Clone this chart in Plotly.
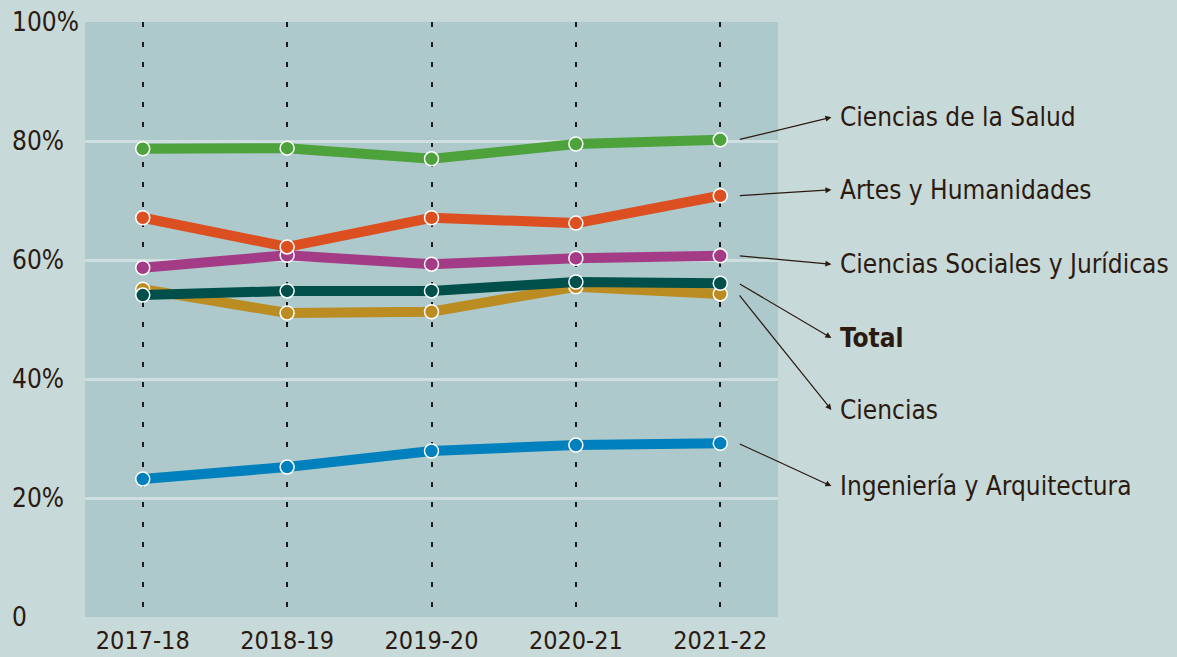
import plotly.graph_objects as go

years = ["2017-18", "2018-19", "2019-20", "2020-21", "2021-22"]

series_names = ["Ingeniería y Arquitectura", "Ciencias", "Ciencias Sociales y Jurídicas",
                "Total", "Artes y Humanidades", "Ciencias de la Salud"]
ingenieria = [23.2, 25.2, 27.9, 28.9, 29.2]
ciencias = [55.1, 51.1, 51.3, 55.5, 54.3]
sociales = [58.7, 60.8, 59.3, 60.3, 60.7]
total = [54.1, 54.8, 54.8, 56.3, 56.1]
artes = [67.1, 62.2, 67.1, 66.2, 70.8]
salud = [78.7, 78.8, 77.0, 79.5, 80.2]
series_values = [ingenieria, ciencias, sociales, total, artes, salud]

label_y = [22.0, 34.8, 59.3, 46.9, 71.8, 84.0]

y_ticks = [0, 20, 40, 60, 80, 100]
y_tick_labels = ["0", "20%", "40%", "60%", "80%", "100%"]

colors = ["#0080bd", "#bb8c22", "#a43b87", "#004f4b", "#dc4f21", "#4da23b"]

FONT = "Liberation Sans Narrow, DejaVu Sans Condensed, sans-serif"
TXT = "#2a1a10"

fig = go.Figure()
for name, vals, col in zip(series_names, series_values, colors):
    fig.add_trace(go.Scatter(
        x=list(range(len(years))), y=vals, name=name, mode="lines+markers",
        line=dict(color=col, width=10),
        marker=dict(color=col, size=14, line=dict(color="white", width=1.5)),
        cliponaxis=False, hoverinfo="skip"))

annotations = []
for name, vals, ly in zip(series_names, series_values, label_y):
    annotations.append(dict(
        x=4.77, y=ly, xref="x", yref="y", ax=4.125, ay=vals[-1], axref="x", ayref="y",
        text="", showarrow=True, arrowhead=2, arrowsize=1, arrowwidth=1.2,
        arrowcolor=TXT))
    annotations.append(dict(
        x=1.086, y=ly, xref="paper", yref="y",
        text=("<b>%s</b>" % name) if name == "Total" else name,
        showarrow=False, xanchor="left", yanchor="middle",
        font=dict(family=FONT, size=26, color=TXT)))
for v, t in zip(y_ticks, y_tick_labels):
    annotations.append(dict(
        x=-0.108, y=v, xref="paper", yref="y", text=t, showarrow=False,
        xanchor="left", yanchor="middle", font=dict(family=FONT, size=26, color=TXT)))

fig.update_layout(
    width=1177, height=657,
    margin=dict(l=85, r=399, t=22, b=40, autoexpand=False),
    paper_bgcolor="#c8d9d9", plot_bgcolor="#adc9cb",
    showlegend=False,
    annotations=annotations,
    font=dict(family=FONT, size=26, color=TXT),
)
fig.update_xaxes(
    range=[-0.4, 4.4], tickmode="array", tickvals=list(range(len(years))), ticktext=years,
    showgrid=True, gridcolor="#1a1a1a", gridwidth=1.6, griddash="5px,15px",
    zeroline=False, showline=False, ticks="", automargin=False, ticklabelstandoff=6,
    tickfont=dict(family=FONT, size=25, color=TXT))
fig.update_yaxes(
    range=[0, 100], tickmode="array", tickvals=[20, 40, 60, 80], showticklabels=False,
    showgrid=True, gridcolor="#cfdfdf", gridwidth=2.5, zeroline=False, showline=False,
    ticks="", automargin=False)

fig.write_html("out.html", config={"displayModeBar": False},
               post_script="document.body.style.margin='0';document.body.style.background='#c8d9d9';")
